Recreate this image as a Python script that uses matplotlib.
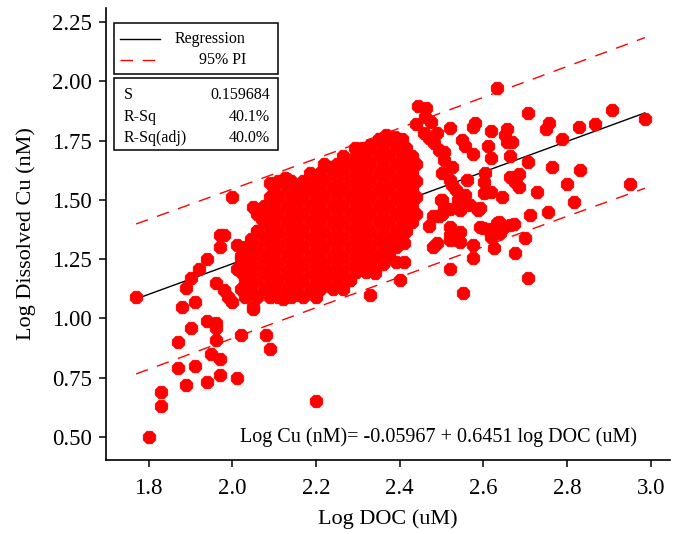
import numpy as np
import matplotlib
matplotlib.use("Agg")
import matplotlib.pyplot as plt
from matplotlib.patches import Rectangle

plt.rcParams['font.family'] = ['Liberation Serif', 'DejaVu Serif']

# regression summary as printed on the chart
INTERCEPT = -0.05967
SLOPE = 0.6451
S_VAL = 0.159684
RSQ = "40.1%"
RSQ_ADJ = "40.0%"
T_CRIT = 1.964

x_ticks = [1.8, 2.0, 2.2, 2.4, 2.6, 2.8, 3.0]
y_ticks = [0.50, 0.75, 1.00, 1.25, 1.50, 1.75, 2.00, 2.25]

# dense core of the cloud, read row by row: log Cu level -> log DOC values
core_rows = {
    1.090: [2.03, 2.06, 2.09, 2.11, 2.14, 2.17, 2.20],
    1.125: [2.02, 2.045, 2.075, 2.10, 2.13, 2.155, 2.185, 2.21, 2.24, 2.265],
    1.160: [2.03, 2.06, 2.09, 2.11, 2.14, 2.17, 2.20, 2.22, 2.25, 2.28],
    1.195: [2.02, 2.045, 2.075, 2.10, 2.13, 2.155, 2.185, 2.21, 2.24, 2.265, 2.295, 2.32],
    1.230: [2.03, 2.06, 2.09, 2.11, 2.14, 2.17, 2.20, 2.22, 2.25, 2.28, 2.31, 2.33, 2.36],
    1.265: [2.02, 2.045, 2.075, 2.10, 2.13, 2.155, 2.185, 2.21, 2.24, 2.265, 2.295,
            2.32, 2.35, 2.375],
    1.300: [2.03, 2.06, 2.09, 2.11, 2.14, 2.17, 2.20, 2.22, 2.25, 2.28, 2.31, 2.33,
            2.36, 2.39],
    1.335: [2.045, 2.075, 2.10, 2.13, 2.155, 2.185, 2.21, 2.24, 2.265, 2.295, 2.32,
            2.35, 2.375, 2.405],
    1.370: [2.06, 2.09, 2.11, 2.14, 2.17, 2.20, 2.22, 2.25, 2.28, 2.31, 2.33, 2.36,
            2.39, 2.415],
    1.405: [2.075, 2.10, 2.13, 2.155, 2.185, 2.21, 2.24, 2.265, 2.295, 2.32, 2.35,
            2.375, 2.405, 2.43],
    1.440: [2.06, 2.09, 2.11, 2.14, 2.17, 2.20, 2.22, 2.25, 2.28, 2.31, 2.33, 2.36,
            2.39, 2.415, 2.44],
    1.475: [2.075, 2.10, 2.13, 2.155, 2.185, 2.21, 2.24, 2.265, 2.295, 2.32, 2.35,
            2.375, 2.405, 2.43],
    1.510: [2.09, 2.11, 2.14, 2.17, 2.20, 2.22, 2.25, 2.28, 2.31, 2.33, 2.36, 2.39,
            2.415, 2.44],
    1.545: [2.10, 2.13, 2.155, 2.185, 2.21, 2.24, 2.265, 2.295, 2.32, 2.35, 2.375,
            2.405, 2.43],
    1.580: [2.11, 2.14, 2.17, 2.20, 2.22, 2.25, 2.28, 2.31, 2.33, 2.36, 2.39, 2.415, 2.44],
    1.615: [2.185, 2.21, 2.24, 2.265, 2.295, 2.32, 2.35, 2.375, 2.405, 2.43],
    1.650: [2.22, 2.25, 2.28, 2.31, 2.33, 2.36, 2.39, 2.415, 2.44],
    1.685: [2.265, 2.295, 2.32, 2.35, 2.375, 2.405, 2.43],
    1.720: [2.31, 2.33, 2.36, 2.39, 2.415],
    1.755: [2.35, 2.375, 2.405],
}

# scattered points around the core (log DOC, log Cu)
low_left = [
    (1.80, 0.50), (1.83, 0.69), (1.83, 0.63), (1.87, 0.79), (1.89, 0.72),
    (1.91, 0.80), (1.94, 0.73), (1.95, 0.85), (1.97, 0.83), (1.97, 0.76),
    (2.01, 0.75), (1.87, 0.90), (1.90, 0.96), (1.94, 0.99), (1.96, 0.98),
    (1.96, 0.96), (1.96, 0.91), (2.02, 0.93), (2.08, 0.93), (2.09, 0.87),
    (2.20, 0.65), (2.05, 1.04), (1.88, 1.05), (1.91, 1.07), (1.77, 1.09),
    (1.89, 1.13), (1.90, 1.17), (1.92, 1.21), (1.94, 1.25), (1.97, 1.30),
    (1.98, 1.35), (2.00, 1.51), (1.96, 1.15), (1.98, 1.12), (1.99, 1.09),
    (2.00, 1.07), (2.01, 1.21), (2.02, 1.25), (2.05, 1.05), (2.05, 1.47),
    (2.09, 1.57), (2.13, 1.59), (2.12, 1.08), (1.97, 1.35), (2.01, 1.31),
    (2.07, 1.42), (2.06, 1.37), (2.13, 1.10), (2.16, 1.10), (2.10, 1.13),
]
low_right = [
    (2.33, 1.25), (2.34, 1.19), (2.39, 1.24), (2.41, 1.24), (2.40, 1.16),
    (2.33, 1.10), (2.24, 1.13), (2.28, 1.16), (2.14, 1.16), (2.22, 1.17),
    (2.20, 1.19), (2.38, 1.32), (2.41, 1.32), (2.40, 1.36), (2.52, 1.21),
]
top_edge = [
    (2.443, 1.894), (2.462, 1.889), (2.46, 1.85), (2.474, 1.830), (2.438, 1.818),
    (2.490, 1.784), (2.521, 1.805), (2.457, 1.78), (2.469, 1.76), (2.483, 1.74),
    (2.493, 1.71), (2.388, 1.767), (2.395, 1.755), (2.367, 1.775), (2.350, 1.755),
    (2.33, 1.73), (2.307, 1.712), (2.317, 1.685), (2.293, 1.72), (2.236, 1.640),
    (2.257, 1.65), (2.126, 1.594), (2.198, 1.602), (2.157, 1.55), (2.188, 1.55),
]
right_side = [
    (2.633, 1.970), (2.707, 1.868), (2.907, 1.877), (2.986, 1.843), (2.574, 1.809),
    (2.581, 1.826), (2.617, 1.792), (2.657, 1.797), (2.652, 1.775), (2.757, 1.826),
    (2.750, 1.797), (2.829, 1.809), (2.867, 1.818), (2.788, 1.758), (2.550, 1.754),
    (2.557, 1.725), (2.610, 1.725), (2.657, 1.742), (2.669, 1.742), (2.574, 1.695),
    (2.617, 1.678), (2.664, 1.687), (2.707, 1.661), (2.764, 1.640), (2.831, 1.627),
    (2.560, 1.585), (2.605, 1.615), (2.602, 1.577), (2.664, 1.598), (2.676, 1.577),
    (2.686, 1.556), (2.617, 1.535), (2.602, 1.530), (2.645, 1.513), (2.729, 1.535),
    (2.800, 1.565), (2.950, 1.568), (2.817, 1.492), (2.569, 1.480), (2.586, 1.459),
    (2.593, 1.467), (2.545, 1.459), (2.712, 1.438), (2.755, 1.447), (2.638, 1.408),
    (2.650, 1.387), (2.674, 1.400), (2.598, 1.383), (2.617, 1.362), (2.640, 1.362),
    (2.545, 1.366), (2.536, 1.332), (2.700, 1.341), (2.574, 1.311), (2.626, 1.298),
    (2.574, 1.256), (2.676, 1.277), (2.707, 1.171), (2.552, 1.108), (2.593, 1.387),
    (2.610, 1.375), (2.633, 1.404), (2.664, 1.392), (2.617, 1.345), (2.521, 1.387),
    (2.519, 1.332), (2.543, 1.323), (2.686, 1.608), (2.540, 1.500), (2.535, 1.540),
    (2.500, 1.440), (2.555, 1.520), (2.505, 1.700), (2.507, 1.670), (2.526, 1.640),
    (2.502, 1.615), (2.521, 1.585), (2.526, 1.564), (2.498, 1.501), (2.507, 1.471),
    (2.550, 1.471), (2.495, 1.430), (2.49, 1.32), (2.52, 1.35), (2.48, 1.30),
    (2.47, 1.39), (2.48, 1.43), (2.52, 1.46), (2.50, 1.50),
]

core_doc = [x for y, xs in core_rows.items() for x in xs]
core_cu = [y for y, xs in core_rows.items() for x in xs]
edge = low_left + low_right + top_edge + right_side
doc = np.array(core_doc + [p[0] for p in edge])
cu = np.array(core_cu + [p[1] for p in edge])

# fitted line and 95% prediction interval
xs = np.linspace(doc.min(), doc.max(), 200)
fit = INTERCEPT + SLOPE * xs
n = len(doc)
xbar = doc.mean()
sxx = ((doc - xbar) ** 2).sum()
half = T_CRIT * S_VAL * np.sqrt(1 + 1 / n + (xs - xbar) ** 2 / sxx)

fig = plt.figure(figsize=(6.77, 5.34), dpi=100)
ax = fig.add_axes([106 / 677, 74 / 534, 564 / 677, 452 / 534])

dash = (0, (9, 7))
ax.plot(xs, fit, color="black", lw=1.0, zorder=1)
ax.plot(xs, fit + half, color="red", lw=1.0, ls=dash, zorder=1)
ax.plot(xs, fit - half, color="red", lw=1.0, ls=dash, zorder=1)
ax.scatter(doc, cu, s=100, marker="8", color="#ff0000", edgecolors="#ff0000",
           linewidths=0.3, zorder=2)

ax.set_xlim(1.698, 3.046)
ax.set_ylim(0.403, 2.309)
ax.set_xticks(x_ticks)
ax.set_xticklabels([f"{v:.1f}" for v in x_ticks])
ax.set_yticks(y_ticks)
ax.set_yticklabels([f"{v:.2f}" for v in y_ticks])
ax.tick_params(direction="out", length=5, width=1.1, labelsize=16.5)
ax.tick_params(axis="x", pad=8)
ax.tick_params(axis="y", pad=5)
for side in ("top", "right"):
    ax.spines[side].set_visible(False)
for side in ("left", "bottom"):
    ax.spines[side].set_linewidth(1.2)

ax.set_xlabel("Log DOC (uM)", fontsize=16, labelpad=7)
ax.set_ylabel("Log Dissolved Cu (nM)", fontsize=16, labelpad=12)

# legend box and stats box
tr = ax.transAxes
ax.add_patch(Rectangle((0.0142, 0.854), 0.291, 0.113, transform=tr,
                       fill=False, lw=1.1, ec="black", zorder=5))
ax.add_patch(Rectangle((0.0142, 0.686), 0.291, 0.159, transform=tr,
                       fill=False, lw=1.1, ec="black", zorder=5))
ax.plot([0.025, 0.096], [0.931, 0.931], color="black", lw=1.0, transform=tr)
ax.plot([0.025, 0.096], [0.885, 0.885], color="red", lw=1.0, ls=dash, transform=tr)
ax.text(0.248, 0.931, "Regression", transform=tr, ha="right", va="center", fontsize=11.5)
ax.text(0.248, 0.885, "95% PI", transform=tr, ha="right", va="center", fontsize=11.5)

stats = [("S", f"{S_VAL:.6f}"), ("R-Sq", RSQ), ("R-Sq(adj)", RSQ_ADJ)]
for (lab, val), fy in zip(stats, [0.8075, 0.7595, 0.7117]):
    ax.text(0.032, fy, lab, transform=tr, ha="left", va="center", fontsize=11.5)
    ax.text(0.291, fy, val, transform=tr, ha="right", va="center", fontsize=11.5)

ax.text(0.2376, 0.0509, f"Log Cu (nM)= {INTERCEPT:.5f} + {SLOPE:.4f} log DOC (uM)",
        transform=tr, ha="left", va="center", fontsize=14.5)

fig.savefig("out.png", dpi=100)
